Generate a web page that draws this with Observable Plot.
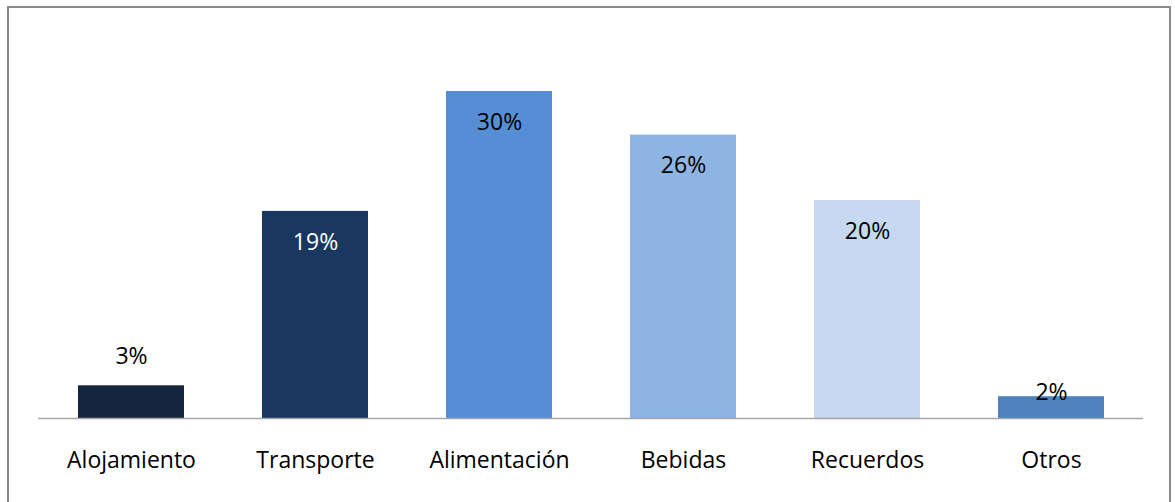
<!DOCTYPE html>
<html>
<head>
<meta charset="utf-8">
<script src="https://cdn.jsdelivr.net/npm/d3@7"></script>
<script src="https://cdn.jsdelivr.net/npm/@observablehq/plot@0.6"></script>
<style>
  html, body { margin: 0; padding: 0; background: #fff; }
  #wrap { position: relative; width: 1175px; height: 502px; overflow: hidden; }
  #border { position: absolute; left: 7px; top: 6px; width: 1164px; height: 520px; border: 2px solid #8b8b8b; box-sizing: border-box; pointer-events: none; }
</style>
</head>
<body>
<div id="wrap"><div id="border"></div></div>
<script>
const categories = ["Alojamiento", "Transporte", "Alimentación", "Bebidas", "Recuerdos", "Otros"];
const values = [3, 19, 30, 26, 20, 2];
const colors = ["#13253f", "#1a3760", "#558ed5", "#8eb4e3", "#c6d9f1", "#4f81bd"];

const data = categories.map((c, i) => ({ category: c, value: values[i], color: colors[i] }));
const labelDy = v => v >= 10 ? 31 : (v >= 3 ? -29 : -4);
const labelFill = (d) => d.category === "Transporte" ? "#ffffff" : "#000000";

const chart = Plot.plot({
  width: 1175,
  height: 502,
  marginLeft: 38,
  marginRight: 32,
  marginTop: 36.5,
  marginBottom: 84,
  style: { fontFamily: "Open Sans, Noto Sans, sans-serif", fontSize: "23px", background: "transparent" },
  x: { domain: categories, paddingInner: 0.425, paddingOuter: 0.2125, label: null },
  y: { domain: [0, 35], axis: null },
  marks: [
    Plot.barY(data, { x: "category", y: "value", fill: "color" }),
    Plot.ruleY([0], { stroke: "#a6a6a6", strokeWidth: 1.5 }),
    Plot.axisX({ tickSize: 0, tickPadding: 33, fontSize: 23, fill: "#000", label: null }),
    ...data.map(d => Plot.text([d], {
      x: "category", y: "value",
      text: v => v.value + "%",
      dy: labelDy(d.value),
      fill: labelFill(d),
      fontSize: 23
    }))
  ]
});
document.getElementById("wrap").prepend(chart);
</script>
</body>
</html>
